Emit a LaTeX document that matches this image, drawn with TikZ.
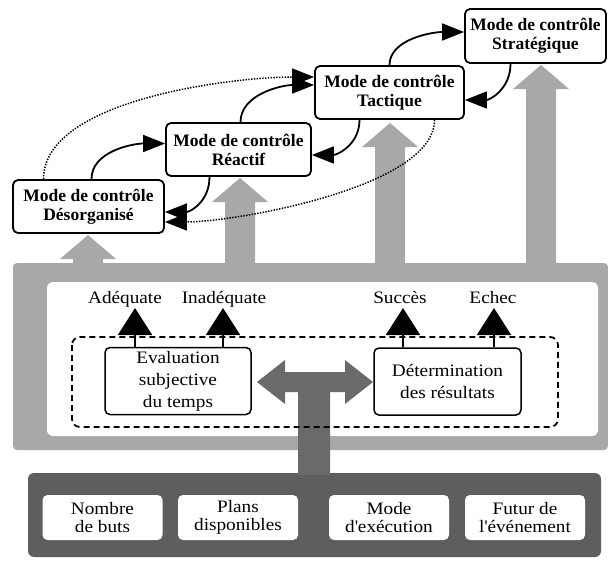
\documentclass[tikz,border=0pt]{standalone}
\usepackage{fontspec}
\setmainfont{Liberation Serif}[FakeStretch=1.1]
\newfontfamily\modefont{Liberation Serif}
\usetikzlibrary{arrows.meta}
\definecolor{bandgray}{HTML}{A8A8A8}
\definecolor{panelgray}{HTML}{5E5E5E}
\definecolor{stemgray}{HTML}{6A6A6A}

\begin{document}
\begin{tikzpicture}[x=1pt,y=-1pt,line join=round,
    mode/.style={draw,line width=1.8pt,rounded corners=5pt,fill=white,align=center,inner sep=0pt,
      minimum height=53pt,font=\modefont\bfseries\fontsize{17.5}{19}\selectfont},
    proc/.style={draw,line width=1.5pt,rounded corners=5pt,fill=white,align=center,inner sep=0pt,
      minimum height=67pt,minimum width=146pt,font=\fontsize{17.5}{22}\selectfont},
    outcome/.style={anchor=south,inner sep=0.5pt,text height=12pt,text depth=4pt,font=\fontsize{17.5}{20}\selectfont},
    factor/.style={fill=white,rounded corners=5pt,align=center,inner sep=0pt,
      minimum height=45pt,minimum width=120pt,font=\fontsize{17.5}{18.5}\selectfont},
    link/.style={line width=1.8pt,-{Triangle[length=22pt,width=17pt]}},
    jump/.style={line width=1.5pt,dash pattern=on 1.4pt off 1.4pt,-{Triangle[length=22pt,width=17pt]}},
    result/.style={line width=2pt,-{Triangle[length=27pt,width=34pt]}}]
  \useasboundingbox (0,0) rectangle (608,562);
  % gray frame and the four big arrows
  \fill[bandgray,rounded corners=4pt] (13,263) rectangle (608,450);
  \fill[white,rounded corners=6pt] (47,282) rectangle (598,436);
  \foreach \x/\y in {88/235,240/178,390/123,541/65}{
    \fill[bandgray] (\x,\y) -- (\x+28,\y+24) -- (\x+15,\y+24) -- (\x+15,265)
      -- (\x-15,265) -- (\x-15,\y+24) -- (\x-28,\y+24) -- cycle;}
  % bottom panel and T arrow
  \fill[panelgray,rounded corners=6pt] (28,473) rectangle (601,557);
  \fill[stemgray] (257,382) -- (285,360) -- (285,372) -- (345,372) -- (345,360) -- (373,382)
    -- (345,404) -- (345,392) -- (330,392) -- (330,475) -- (298,475) -- (298,392)
    -- (285,392) -- (285,404) -- cycle;
  \draw[line width=1.8pt,dash pattern=on 6pt off 4pt,rounded corners=8pt] (72,337) rectangle (558,427);

  \node[mode,minimum width=151pt] (deso) at (88.5,206.5) {Mode de contrôle\\Désorganisé};
  \node[mode,minimum width=145pt] (reac) at (238.5,149.5) {Mode de contrôle\\Réactif};
  \node[mode,minimum width=149pt] (tact) at (389.5,92.5) {Mode de contrôle\\Tactique};
  \node[mode,minimum width=141pt,minimum height=54pt] (strat) at (535.5,36) {Mode de contrôle\\Stratégique};

  \node[proc] (eval) at (178,381) {Evaluation\\subjective\\du temps};
  \node[proc,minimum width=147pt] (det) at (447.5,381.5) {Détermination\\des résultats};

  \node[outcome] (ade) at (125,308) {Adéquate};
  \node[outcome] (inade) at (224,308) {Inadéquate};
  \node[outcome] (succ) at (400,308) {Succès};
  \node[outcome] (echec) at (493,308) {Echec};

  \foreach \x/\txt [count=\i] in {102.5/{Nombre\\de buts},238/{Plans\\disponibles},
      389/{Mode\\d\textquotesingle exécution},525/{Futur de\\l\textquotesingle événement}}
    \node[factor] (fac\i) at (\x,517.5) {\txt};

  \draw[result] ([xshift=-43pt]eval.north) -- ([xshift=10pt]ade.south);
  \draw[result] ([xshift=45pt]eval.north) -- ([xshift=-1pt]inade.south);
  \draw[result] ([xshift=-44.5pt]det.north) -- ([xshift=3pt]succ.south);
  \draw[result] ([xshift=46.5pt]det.north) -- ([xshift=1pt]echec.south);

  \draw[link] ([xshift=3pt]deso.north) .. controls +(0,-28) and +(-32,0) .. ([yshift=6pt]reac.west);
  \draw[link] ([xshift=-29pt]reac.south) .. controls +(0,25) and +(25,0) .. ([yshift=-5.5pt]deso.east);
  \draw[link] ([xshift=2pt]reac.north) .. controls +(0,-28) and +(-32,0) .. ([yshift=7.5pt]tact.west);
  \draw[link] ([xshift=-30pt]tact.south) .. controls +(0,25) and +(25,0) .. ([yshift=-5.5pt]reac.east);
  \draw[link] (tact.north) .. controls +(0,-26) and +(-32,0) .. ([yshift=4pt]strat.west);
  \draw[link] ([xshift=-25pt]strat.south) .. controls +(0,25) and +(25,0) .. ([yshift=-7.5pt]tact.east);
  \draw[jump] ([xshift=-45pt]deso.north) .. controls +(0,-80) and +(-80,0) .. ([yshift=15.5pt]tact.west);
  \draw[jump] ([xshift=45pt]tact.south) .. controls +(0,68) and +(68,0) .. ([yshift=-15.5pt]deso.east);
\end{tikzpicture}
\end{document}
